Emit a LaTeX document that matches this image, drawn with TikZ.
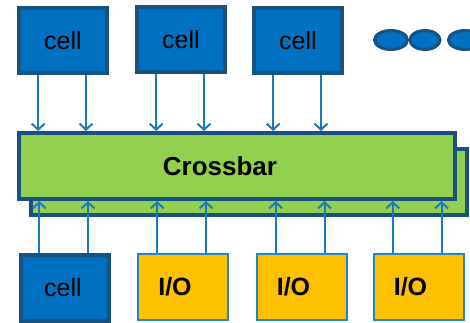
\documentclass[tikz,border=0pt]{standalone}
\usepackage{fontspec}
\setmainfont{Liberation Sans}
\usepackage{tikz}
\usetikzlibrary{positioning, arrows.meta, calc, shapes.geometric}

\definecolor{cellblue}{RGB}{0,112,192}
\definecolor{darkrim}{RGB}{22,82,130}
\definecolor{wireblue}{RGB}{26,122,190}
\definecolor{xbargreen}{RGB}{146,208,80}
\definecolor{ioyellow}{RGB}{255,192,0}
\definecolor{iorim}{RGB}{30,134,200}

\tikzset{
    cellbox/.style={draw=darkrim, line width=4pt, fill=cellblue, inner sep=0pt,
        minimum width=88pt, minimum height=65pt, font=\fontsize{25}{30}\selectfont},
    iobox/.style={draw=iorim, line width=2pt, fill=ioyellow, inner sep=0pt,
        minimum width=90pt, minimum height=66pt, font=\fontsize{25}{30}\selectfont\bfseries},
    xbarbox/.style={draw=darkrim, line width=4pt, fill=xbargreen, inner sep=0pt,
        minimum width=436pt, minimum height=66pt, font=\fontsize{26}{30}\selectfont\bfseries},
    dotshape/.style={ellipse, draw=darkrim, line width=3pt, fill=cellblue, inner sep=0pt,
        minimum height=19pt},
    wire/.style={draw=wireblue, line width=2pt, -{Straight Barb[length=6pt,width=13pt]}}
}

\begin{document}
\begin{tikzpicture}[x=1pt, y=-1pt]
    \useasboundingbox (0,0) rectangle (470,322);

    % crossbar, the copy behind it first
    \node[xbarbox] (xbarback) at (249,182) {};
    \node[xbarbox] (xbar) at (237,166) {Crossbar\rule{34pt}{0pt}};

    % cells on top, they feed the crossbar
    \foreach \name/\x/\y in {t1/63/40.5, t2/181/39.5, t3/298/40.5}
    {
        \node[cellbox] (\name) at (\x,\y) {cell};
        \foreach \f/\k in {0.23/a, 0.75/b}
        {
            \coordinate (\name\k) at ($(\name.south west)!\f!(\name.south east)$);
            \draw[wire] (\name\k) -- (\name\k |- xbar.north);
        }
    }

    % more of them
    \node[dotshape, minimum width=33pt] (dot1) at (391,40) {};
    \node[dotshape, minimum width=30pt] (dot2) at (425,40) {};
    \node[dotshape, minimum width=33pt] (dot3) at (465,40) {};

    % bottom row: one cell and the I/O ports
    \node[cellbox, minimum height=66pt] (b1) at (65,287.5) {cell\rule{4pt}{0pt}};
    \foreach \name/\x in {b2/183, b3/301.5, b4/418.5}
    {
        \node[iobox] (\name) at (\x,287) {I/O\rule{16pt}{0pt}};
    }

    % they all feed the crossbar from below
    \foreach \name in {b1, b2, b3, b4}
    {
        \foreach \f/\k in {0.22/a, 0.75/b}
        {
            \coordinate (\name\k) at ($(\name.north west)!\f!(\name.north east)$);
            \draw[wire] (\name\k) -- (\name\k |- xbar.south);
        }
    }
\end{tikzpicture}
\end{document}
